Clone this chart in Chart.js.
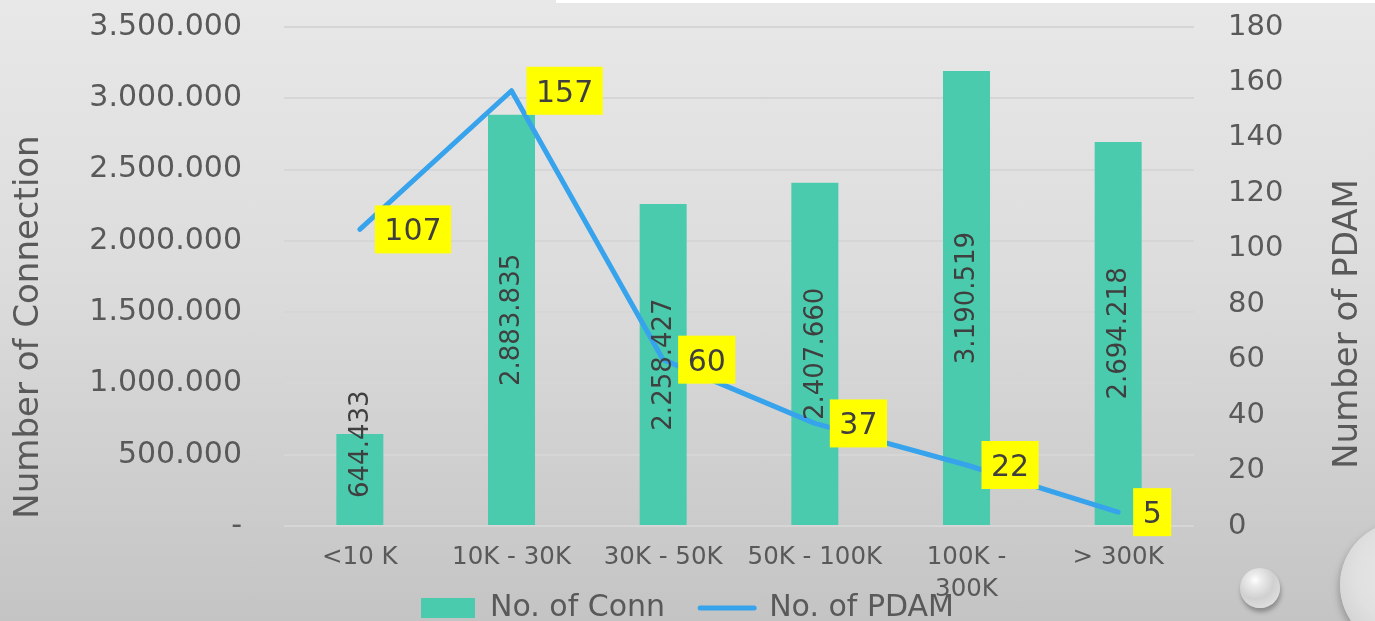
<!DOCTYPE html>
<html>
<head>
<meta charset="utf-8">
<title>Number of Connection and Number of PDAM</title>
<script src="https://cdn.jsdelivr.net/npm/chart.js@4/dist/chart.umd.min.js"></script>
<style>
  html, body { margin: 0; padding: 0; }
  body {
    width: 1375px; height: 621px; overflow: hidden; position: relative;
    background: linear-gradient(to bottom, #e8e8e8 0%, #dcdcdc 45%, #c4c4c4 100%);
  }
  .edge { position: absolute; left: 556px; top: 0; width: 819px; height: 3px; background: #ffffff; }
  .drop { position: absolute; border-radius: 50%; }
  .drop.small {
    left: 1240px; top: 568px; width: 40px; height: 40px;
    background: radial-gradient(circle at 38% 30%, #ffffff 0%, #ececec 16%, #d0d0d0 50%, #dedede 78%, #b4b4b4 100%);
    box-shadow: 1px 4px 4px rgba(70,70,70,0.45);
  }
  .drop.big {
    left: 1340px; top: 521px; width: 128px; height: 128px;
    background: radial-gradient(circle at 50% 42%, #e8e8e8 0%, #e0e0e0 50%, #d2d2d2 78%, #b6b6b6 93%, #cfcfcf 100%);
    box-shadow: -2px 4px 6px rgba(80,80,80,0.35);
  }
  canvas { position: absolute; left: 0; top: 0; }
</style>
</head>
<body>
<div class="edge"></div>
<div class="drop small"></div>
<div class="drop big"></div>
<canvas id="chart" width="1375" height="621"></canvas>
<script>
// Service-size classes (number of customers served)
const categories = ['<10 K', '10K - 30K', '30K - 50K', '50K - 100K', '100K - 300K', '> 300K'];
// Total connections per class
const connections = [644433, 2883835, 2258427, 2407660, 3190519, 2694218];
// Number of PDAM utilities per class
const pdamCounts = [107, 157, 60, 37, 22, 5];

const seriesNames = ['No. of Conn', 'No. of PDAM'];
const leftTitle = 'Number of Connection';
const rightTitle = 'Number of PDAM';
const leftMax = 3500000, leftStep = 500000;
const rightMax = 180, rightStep = 20;

const FONT = '"DejaVu Sans", "Open Sans", sans-serif';
const TEXT = '#595959';
const LABEL = '#3f3f3f';
const BAR = '#4bcbad';
const LINE = '#36a3ec';

function dotted(v) {
  return String(Math.round(v)).replace(/\B(?=(\d{3})+(?!\d))/g, '.');
}

// Value labels: rotated text inside bars, yellow call-outs beside line points,
// plus the two axis titles, centred on the plot + category band.
const annotations = {
  id: 'annotations',
  afterLayout(chart) {
    // let the wrapped category label run below the axis box without clipping
    chart.scales.x.bottom = chart.height;
  },
  afterDatasetsDraw(chart) {
    const ctx = chart.ctx;
    const area = chart.chartArea;

    ctx.save();
    ctx.fillStyle = LABEL;
    ctx.font = '26px ' + FONT;
    ctx.textAlign = 'center';
    ctx.textBaseline = 'middle';
    chart.getDatasetMeta(0).data.forEach((bar, i) => {
      const text = dotted(connections[i]);
      const w = ctx.measureText(text).width;
      let cy = (bar.y + bar.base) / 2;
      cy = Math.min(cy, bar.base - 27 - w / 2);
      ctx.save();
      ctx.translate(bar.x, cy);
      ctx.rotate(-Math.PI / 2);
      ctx.fillText(text, 0, 1);
      ctx.restore();
    });

    ctx.font = '30px ' + FONT;
    ctx.textBaseline = 'alphabetic';
    chart.getDatasetMeta(1).data.forEach((pt, i) => {
      const text = String(pdamCounts[i]);
      const w = ctx.measureText(text).width + 19;
      const x0 = pt.x + 15;
      ctx.fillStyle = '#ffff00';
      ctx.fillRect(x0, pt.y - 24, w, 48);
      ctx.fillStyle = LABEL;
      ctx.fillText(text, x0 + w / 2, pt.y + 11);
    });

    ctx.fillStyle = TEXT;
    ctx.font = '34px ' + FONT;
    ctx.textBaseline = 'middle';
    const midY = (area.top + chart.height) / 2;
    ctx.save();
    ctx.translate(area.left - 255, midY + 3);
    ctx.rotate(-Math.PI / 2);
    ctx.fillText(leftTitle, 0, 0);
    ctx.restore();
    ctx.save();
    ctx.translate(area.right + 154, midY);
    ctx.rotate(-Math.PI / 2);
    ctx.fillText(rightTitle, 0, 0);
    ctx.restore();
    ctx.restore();
  }
};

new Chart(document.getElementById('chart'), {
  data: {
    labels: categories,
    datasets: [
      {
        type: 'bar',
        label: seriesNames[0],
        data: connections,
        backgroundColor: BAR,
        borderWidth: 0,
        barPercentage: 0.31,
        categoryPercentage: 1,
        yAxisID: 'y',
        order: 1
      },
      {
        type: 'line',
        label: seriesNames[1],
        data: pdamCounts,
        borderColor: LINE,
        backgroundColor: LINE,
        borderWidth: 5,
        borderCapStyle: 'round',
        borderJoinStyle: 'round',
        pointRadius: 0,
        tension: 0,
        yAxisID: 'y1',
        order: 0
      }
    ]
  },
  options: {
    responsive: false,
    devicePixelRatio: 1,
    animation: false,
    layout: { padding: { top: 27, left: 0, right: 0, bottom: -12 } },
    plugins: {
      tooltip: { enabled: false },
      legend: {
        position: 'bottom',
        labels: {
          usePointStyle: true,
          pointStyleWidth: 54,
          boxHeight: 20,
          padding: 35,
          color: TEXT,
          font: { family: FONT, size: 30 },
          sort: (a, b) => a.datasetIndex - b.datasetIndex,
          generateLabels(chart) {
            return chart.data.datasets.map((ds, i) => ({
              text: ds.label,
              datasetIndex: i,
              fillStyle: ds.type === 'bar' ? BAR : LINE,
              strokeStyle: ds.type === 'bar' ? BAR : LINE,
              lineWidth: ds.type === 'bar' ? 0 : 5,
              lineCap: 'round',
              pointStyle: ds.type === 'bar' ? 'rect' : 'line',
              fontColor: TEXT,
              hidden: false
            }));
          }
        }
      }
    },
    scales: {
      x: {
        grid: { display: false, drawTicks: false },
        border: { display: false },
        afterFit(scale) { scale.height = 32; },
        ticks: {
          padding: 16,
          color: TEXT,
          maxRotation: 0,
          autoSkip: false,
          font: { family: FONT, size: 24.5, lineHeight: 1.3 },
          callback(value) {
            const label = this.getLabelForValue(value);
            if (label.length > 10 && label.includes(' - ')) {
              const parts = label.split(' - ');
              return [parts[0] + ' -', parts[1]];
            }
            return label;
          }
        }
      },
      y: {
        position: 'left',
        min: 0,
        max: leftMax,
        afterFit(scale) { scale.width = 284; },
        grid: { color: '#d6d6d6', lineWidth: 2, drawTicks: true, tickLength: 42, tickColor: 'rgba(0,0,0,0)' },
        border: { display: false },
        ticks: {
          stepSize: leftStep,
          padding: 0,
          color: TEXT,
          font: { family: FONT, size: 30 },
          callback: v => (v === 0 ? '-' : dotted(v))
        }
      },
      y1: {
        position: 'right',
        min: 0,
        max: rightMax,
        afterFit(scale) { scale.width = 181; },
        grid: { drawOnChartArea: false, drawTicks: true, tickLength: 34, tickColor: 'rgba(0,0,0,0)' },
        border: { display: false },
        ticks: {
          stepSize: rightStep,
          padding: 0,
          color: TEXT,
          font: { family: FONT, size: 29 }
        }
      }
    }
  },
  plugins: [annotations]
});
</script>
</body>
</html>
